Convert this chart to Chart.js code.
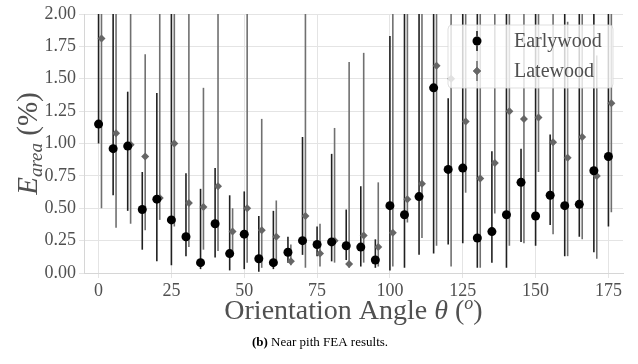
<!DOCTYPE html>
<html>
<head>
<meta charset="utf-8">
<script src="https://cdn.jsdelivr.net/npm/chart.js@4.4.0/dist/chart.umd.min.js"></script>
<style>
  html, body { margin: 0; padding: 0; background: #fff; }
  #wrap { position: relative; width: 638px; height: 364px; }
</style>
</head>
<body>
<div id="wrap"><canvas id="feaChart" width="638" height="364"></canvas></div>
<script>
'use strict';

// Earlywood: orientation angle, mean area error and the error bar ends (%)
var earlyAngle = [0, 5, 10, 15, 20, 25, 30, 35, 40, 45, 50, 55, 60, 65, 70, 75, 80, 85,
  90, 95, 100, 105, 110, 115, 120, 125, 130, 135, 140, 145, 150, 155, 160, 165, 170, 175];
var earlyMean = [1.15, 0.96, 0.98, 0.49, 0.57, 0.41, 0.28, 0.08, 0.38, 0.15, 0.30, 0.11,
  0.08, 0.16, 0.25, 0.22, 0.24, 0.21, 0.20, 0.10, 0.52, 0.45, 0.59, 1.43, 0.80, 0.81,
  0.27, 0.32, 0.45, 0.70, 0.44, 0.60, 0.52, 0.53, 0.79, 0.90];
var earlyLow = [1.00, 0.60, 0.48, 0.18, 0.09, 0.06, 0.13, 0.03, 0.12, 0.02, 0.03, 0.01,
  0.03, 0.08, 0.14, 0.13, 0.09, 0.10, 0.05, 0.04, 0.02, 0.04, 0.14, 0.15, 0.22, 0.23,
  0.04, 0.08, 0.04, 0.24, 0.21, 0.37, 0.13, 0.28, 0.16, 0.36];
var earlyHigh = [2.6, 2.4, 1.40, 0.78, 1.39, 2.7, 0.77, 0.65, 0.81, 0.60, 0.63, 0.44,
  0.48, 0.28, 1.05, 0.36, 0.92, 0.49, 0.67, 0.26, 1.83, 2.3, 2.4, 2.8, 1.35, 2.6,
  2.3, 0.94, 2.2, 0.96, 2.5, 1.07, 2.3, 2.4, 2.2, 2.5];

// Latewood, offset by one degree so the bars sit side by side
var lateAngle = [1, 6, 11, 16, 21, 26, 31, 36, 41, 46, 51, 56, 61, 66, 71, 76, 81, 86,
  91, 96, 101, 106, 111, 116, 121, 126, 131, 136, 141, 146, 151, 156, 161, 166, 171, 176];
var lateMean = [1.81, 1.08, 0.99, 0.90, 0.58, 1.00, 0.54, 0.51, 0.67, 0.32, 0.50, 0.33,
  0.28, 0.09, 0.44, 0.15, 0.25, 0.07, 0.29, 0.20, 0.31, 0.57, 0.69, 1.60, 1.50, 1.17,
  0.73, 0.85, 1.25, 1.19, 1.20, 1.01, 0.89, 1.05, 0.75, 1.31];
var lateLow = [0.50, 0.35, 0.38, 0.33, 0.41, 0.36, 0.20, 0.18, 0.17, 0.13, 0.08, 0.04,
  0.07, 0.06, 0.04, 0.05, 0.08, 0.04, 0.08, 0.05, 0.05, 0.39, 0.27, 0.21, 0.05, 0.62,
  0.04, 0.46, 0.21, 0.23, 0.78, 0.30, 0.13, 0.26, 0.11, 0.47];
var lateHigh = [3.1, 2.5, 2.4, 1.69, 2.2, 2.6, 2.3, 1.43, 2.4, 0.50, 2.5, 1.19,
  0.56, 0.22, 2.3, 0.38, 1.12, 1.63, 1.70, 0.70, 2.6, 2.4, 2.5, 2.9, 2.7, 2.4,
  2.3, 2.2, 2.6, 2.4, 2.5, 2.3, 1.94, 2.5, 1.68, 2.6];

var xTicks = [0, 25, 50, 75, 100, 125, 150, 175];
var yTicks = [0, 0.25, 0.5, 0.75, 1.0, 1.25, 1.5, 1.75, 2.0];

var serif = '"Liberation Serif", "Times New Roman", serif';
var textColor = '#505050';
var gridColor = '#e4e4e4';

function points(xs, ys) {
  return xs.map(function (x, i) { return { x: x, y: ys[i] }; });
}

// vertical error bars, drawn under the markers and clipped to the plot
var errorBars = {
  id: 'errorBars',
  beforeDatasetsDraw: function (chart) {
    var ctx = chart.ctx, area = chart.chartArea;
    var xs = chart.scales.x, ys = chart.scales.y;
    ctx.save();
    ctx.beginPath();
    ctx.rect(area.left, area.top, area.right - area.left, area.bottom - area.top);
    ctx.clip();
    chart.data.datasets.slice().reverse().forEach(function (ds) {
      ctx.strokeStyle = ds.errColor;
      ctx.lineWidth = ds.errWidth;
      ds.data.forEach(function (p, i) {
        var px = xs.getPixelForValue(p.x);
        ctx.beginPath();
        ctx.moveTo(px, ys.getPixelForValue(ds.errLow[i]));
        ctx.lineTo(px, ys.getPixelForValue(ds.errHigh[i]));
        ctx.stroke();
      });
    });
    ctx.restore();
  }
};

// legend box in the upper right corner of the plot
var legendBox = {
  id: 'legendBox',
  afterDatasetsDraw: function (chart) {
    var ctx = chart.ctx;
    var bx = 448, by = 25, bw = 165, bh = 63;
    ctx.save();
    ctx.beginPath();
    ctx.roundRect(bx, by, bw, bh, 4);
    ctx.fillStyle = 'rgba(255,255,255,0.8)';
    ctx.fill();
    ctx.strokeStyle = 'rgba(215,215,215,0.8)';
    ctx.lineWidth = 1;
    ctx.stroke();
    chart.data.datasets.forEach(function (ds, i) {
      var mx = 477, my = 41 + i * 30;
      ctx.strokeStyle = ds.errColor;
      ctx.lineWidth = ds.errWidth;
      ctx.beginPath();
      ctx.moveTo(mx, my - 10);
      ctx.lineTo(mx, my + 10);
      ctx.stroke();
      Chart.helpers.drawPoint(ctx, {
        pointStyle: ds.pointStyle, radius: ds.pointRadius, borderWidth: 0
      }, mx, my);
      ctx.fillStyle = ds.pointBackgroundColor;
      ctx.fill();
      ctx.fillStyle = textColor;
      ctx.font = '20px ' + serif;
      ctx.textBaseline = 'middle';
      ctx.textAlign = 'left';
      ctx.fillText(ds.label, 514, my + 1);
    });
    ctx.restore();
  }
};

// draws a run of text pieces: [text, font, baseline shift]
function drawRun(ctx, pieces, cx, baseY) {
  var total = 0;
  pieces.forEach(function (p) { ctx.font = p[1]; total += ctx.measureText(p[0]).width; });
  var x = cx - total / 2;
  pieces.forEach(function (p) {
    ctx.font = p[1];
    ctx.fillText(p[0], x, baseY + p[2]);
    x += ctx.measureText(p[0]).width;
  });
}

// axis titles and the figure caption
var titles = {
  id: 'titles',
  afterDraw: function (chart) {
    var ctx = chart.ctx, area = chart.chartArea;
    ctx.save();
    ctx.fillStyle = textColor;
    ctx.textBaseline = 'alphabetic';
    ctx.textAlign = 'left';

    drawRun(ctx, [
      ['Orientation Angle ', '28px ' + serif, 0],
      ['\u03b8', 'italic 28px ' + serif, 0],
      [' (', '28px ' + serif, 0],
      ['o', 'italic 18px ' + serif, -10],
      [')', '28px ' + serif, 0]
    ], (area.left + area.right) / 2, 319);

    ctx.save();
    ctx.translate(37, (area.top + area.bottom) / 2);
    ctx.rotate(-Math.PI / 2);
    drawRun(ctx, [
      ['E', 'italic 29px ' + serif, 0],
      ['area', 'italic 19px ' + serif, 5],
      [' (%)', '29px ' + serif, 0]
    ], 0, 0);
    ctx.restore();

    ctx.fillStyle = '#000';
    drawRun(ctx, [
      ['(b)', 'bold 13px ' + serif, 0],
      [' Near pith FEA results.', '13px ' + serif, 0]
    ], 320, 346);
    ctx.restore();
  }
};

var ctx = document.getElementById('feaChart').getContext('2d');
new Chart(ctx, {
  type: 'scatter',
  data: {
    datasets: [{
      label: 'Earlywood',
      data: points(earlyAngle, earlyMean),
      errLow: earlyLow,
      errHigh: earlyHigh,
      errColor: '#202020',
      errWidth: 1.6,
      pointStyle: 'circle',
      pointRadius: 4.5,
      pointBackgroundColor: '#000',
      pointBorderWidth: 0
    }, {
      label: 'Latewood',
      data: points(lateAngle, lateMean),
      errLow: lateLow,
      errHigh: lateHigh,
      errColor: '#707070',
      errWidth: 1.6,
      pointStyle: 'rectRot',
      pointRadius: 4,
      pointBackgroundColor: '#666',
      pointBorderWidth: 0
    }]
  },
  options: {
    responsive: false,
    animation: false,
    layout: { padding: { top: 14, right: 15, left: 0, bottom: 0 } },
    plugins: {
      legend: { display: false },
      tooltip: { enabled: false }
    },
    scales: {
      x: {
        type: 'linear',
        min: -5,
        max: 180,
        afterBuildTicks: function (scale) {
          scale.ticks = xTicks.map(function (v) { return { value: v }; });
        },
        afterFit: function (scale) { scale.height = 91; },
        ticks: {
          color: textColor,
          padding: 2,
          maxRotation: 0,
          font: { family: serif, size: 18 }
        },
        grid: { color: gridColor, tickColor: gridColor, tickLength: 5 },
        border: { color: '#d6d6d6' }
      },
      y: {
        min: 0,
        max: 2,
        afterBuildTicks: function (scale) {
          scale.ticks = yTicks.map(function (v) { return { value: v }; });
        },
        afterFit: function (scale) { scale.width = 84; },
        ticks: {
          color: textColor,
          padding: 3,
          font: { family: serif, size: 18 },
          callback: function (v) { return v.toFixed(2); }
        },
        grid: { color: gridColor, tickColor: gridColor, tickLength: 5 },
        border: { color: '#d6d6d6' }
      }
    }
  },
  plugins: [errorBars, legendBox, titles]
});
</script>
</body>
</html>
